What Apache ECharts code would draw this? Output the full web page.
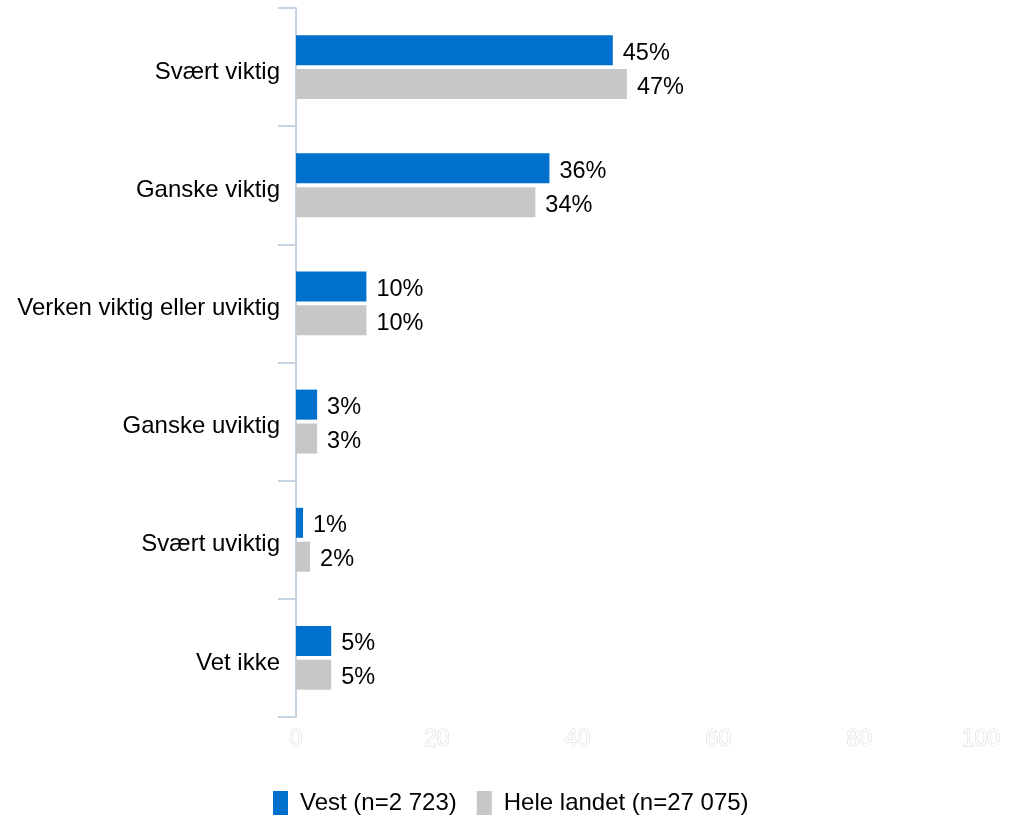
<!DOCTYPE html>
<html>
<head>
<meta charset="utf-8">
<script src="https://cdn.jsdelivr.net/npm/echarts@6/dist/echarts.min.js"></script>
<style>
html,body{margin:0;padding:0;background:#fff;overflow:hidden;}
#c{width:1009px;height:820px;}
</style>
</head>
<body>
<div id="c"></div>
<script>
const categories = ["Svært viktig", "Ganske viktig", "Verken viktig eller uviktig", "Ganske uviktig", "Svært uviktig", "Vet ikke"];
const seriesNames = ["Vest (n=2 723)", "Hele landet (n=27 075)"];
const vestValues = [45, 36, 10, 3, 1, 5];
const heleValues = [47, 34, 10, 3, 2, 5];
const xTicks = [0, 20, 40, 60, 80, 100];

const FONT = "Liberation Sans, Arial, sans-serif";
const chart = echarts.init(document.getElementById('c'), null, {renderer: 'canvas', width: 1009, height: 820});
const labelCfg = {
  show: true, position: 'right', distance: 10, offset: [0, 3],
  formatter: p => p.value + '%',
  color: '#000', fontSize: 23.5, fontFamily: FONT
};
chart.setOption({
  animation: false,
  backgroundColor: '#fff',
  grid: {left: 296, right: 9, top: 8, bottom: 103, containLabel: false},
  legend: {
    data: seriesNames,
    top: 786, left: 268,
    itemWidth: 15, itemHeight: 24, itemGap: 20,
    icon: 'rect',
    textStyle: {fontSize: 24, color: '#000', fontFamily: FONT, padding: [0, 0, 0, 7]}
  },
  xAxis: {
    type: 'value', min: xTicks[0], max: xTicks[xTicks.length - 1], interval: 20,
    splitLine: {show: false},
    axisLine: {show: false}, axisTick: {show: false},
    axisLabel: {
      color: '#fff', fontSize: 23, fontFamily: FONT, margin: 11,
      textBorderColor: '#d4d4d4', textBorderWidth: 1,
      alignMaxLabel: 'right'
    }
  },
  yAxis: {
    type: 'category', data: categories, inverse: true,
    axisLine: {show: true, lineStyle: {color: '#c6d3e3', width: 2}},
    axisTick: {show: true, length: 18, lineStyle: {color: '#c6d3e3', width: 2}},
    axisLabel: {color: '#000', fontSize: 24, fontFamily: FONT, margin: 16,
                verticalAlign: 'top', lineHeight: 10}
  },
  series: [
    {name: seriesNames[0], type: 'bar', data: vestValues, barWidth: 30, barGap: '13%',
     itemStyle: {color: '#0070cd'}, label: labelCfg},
    {name: seriesNames[1], type: 'bar', data: heleValues, barWidth: 30, barGap: '13%',
     itemStyle: {color: '#c6c7c9'}, label: labelCfg}
  ]
});
</script>
</body>
</html>
